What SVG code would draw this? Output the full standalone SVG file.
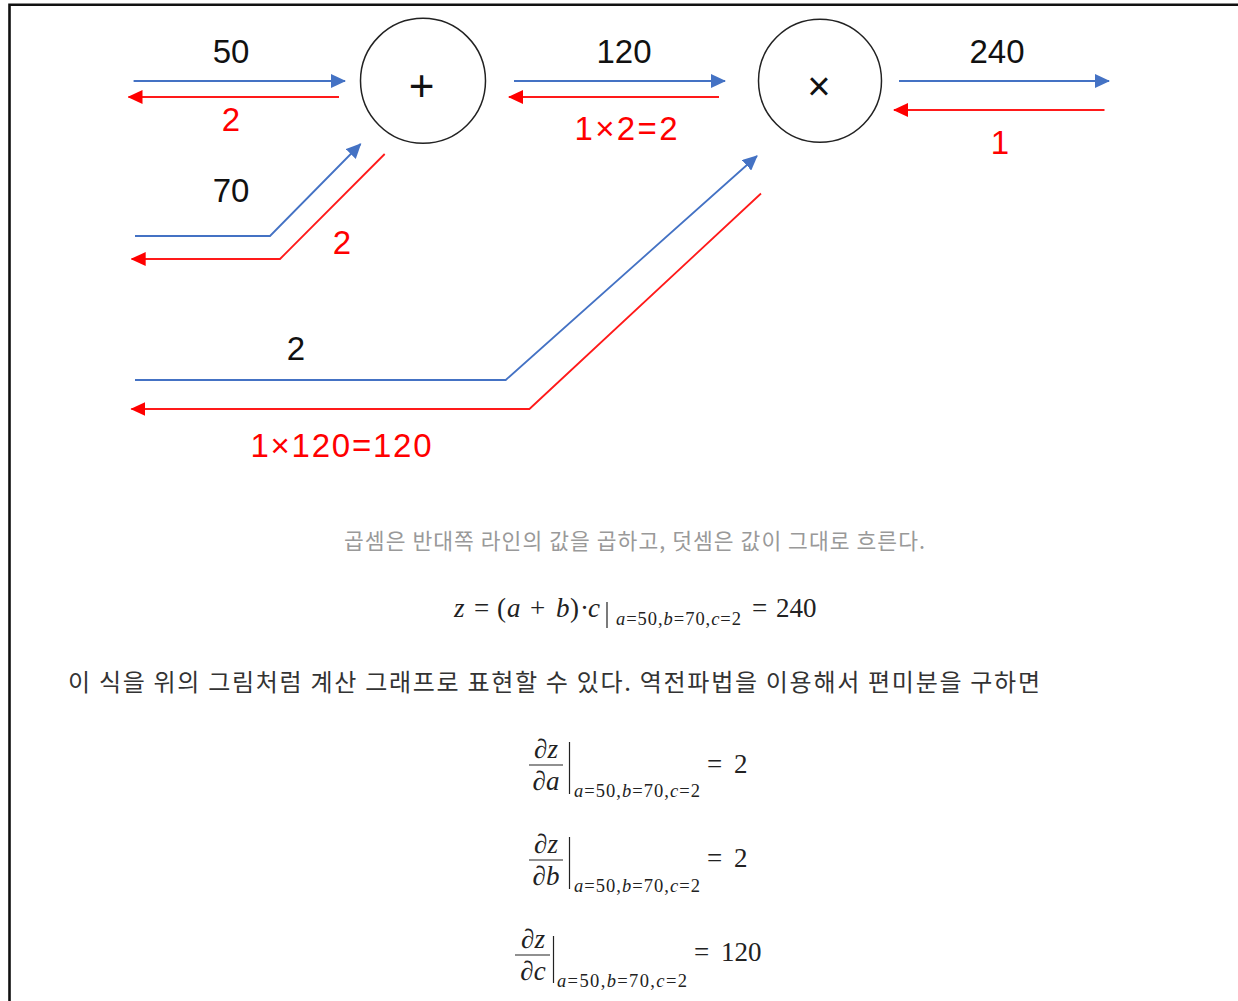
<svg xmlns="http://www.w3.org/2000/svg" width="1238" height="1001" viewBox="0 0 1238 1001">
<style>
.lbl{font-family:"Liberation Sans","DejaVu Sans",sans-serif;font-size:33px;text-anchor:middle}
.k{fill:#111}
.r{fill:#ff0000}
.b{fill:none;stroke:#4472c4;stroke-width:1.8}
.rd{fill:none;stroke:#ff1a1a;stroke-width:1.8}
.node{fill:#fff;stroke:#222;stroke-width:1.5}
.op{font-family:"Liberation Sans","DejaVu Sans",sans-serif;fill:#111;text-anchor:middle}
.kr{font-family:"Noto Sans CJK KR","Noto Sans",sans-serif}
.m{font-family:"Liberation Serif","DejaVu Serif",serif;fill:#222;font-size:27px}
.mi{font-style:italic}
.sub{font-family:"Liberation Serif","DejaVu Serif",serif;fill:#222;font-size:18.5px}
.ml{stroke:#222;stroke-width:1.2}
</style>
<defs>
<marker id="ab" markerUnits="userSpaceOnUse" markerWidth="15" markerHeight="14" viewBox="0 0 15 14" refX="14" refY="7" orient="auto"><path d="M0,0 L15,7 L0,14 z" fill="#4472c4"/></marker>
<marker id="ar" markerUnits="userSpaceOnUse" markerWidth="15" markerHeight="14" viewBox="0 0 15 14" refX="14" refY="7" orient="auto"><path d="M0,0 L15,7 L0,14 z" fill="#ff0000"/></marker>
</defs>
<rect x="0" y="0" width="1238" height="1001" fill="#fff"/>
<path d="M9.5,1001 V4.8 H1238" fill="none" stroke="#111" stroke-width="2.6"/>

<g id="connectors">
<path class="b" d="M133.6,81 L345,81" marker-end="url(#ab)"/>
<path class="rd" d="M339,97 L128.5,97" marker-end="url(#ar)"/>
<path class="b" d="M135,236 L270,236 L360.6,144" marker-end="url(#ab)"/>
<path class="rd" d="M384.7,154 L280,259 L131.7,259" marker-end="url(#ar)"/>
<path class="b" d="M514,81 L725,81" marker-end="url(#ab)"/>
<path class="rd" d="M719,97 L509,97" marker-end="url(#ar)"/>
<path class="b" d="M899,81 L1109,81" marker-end="url(#ab)"/>
<path class="rd" d="M1104.5,110 L894,110" marker-end="url(#ar)"/>
<path class="b" d="M135,380 L505.7,380 L757,156" marker-end="url(#ab)"/>
<path class="rd" d="M761,193.5 L529.4,409 L131.4,409" marker-end="url(#ar)"/>
</g>

<g id="node-add">
<circle class="node" cx="423" cy="80.8" r="62.5"/>
<text class="op" x="421.5" y="101" font-size="44">+</text>
</g>
<g id="node-mul">
<circle class="node" cx="820" cy="80.8" r="61.5"/>
<text class="op" x="819" y="100" font-size="40">×</text>
</g>

<g id="labels">
<text class="lbl k" x="231" y="63">50</text>
<text class="lbl r" x="231" y="131">2</text>
<text class="lbl k" x="231" y="202">70</text>
<text class="lbl r" x="342" y="254">2</text>
<text class="lbl k" x="624" y="63">120</text>
<text class="lbl r" x="626" y="140" textLength="103" lengthAdjust="spacing">1×2=2</text>
<text class="lbl k" x="997" y="63">240</text>
<text class="lbl r" x="1000" y="154">1</text>
<text class="lbl k" x="296" y="360">2</text>
<text class="lbl r" x="341" y="457" textLength="181" lengthAdjust="spacing">1×120=120</text>
</g>

<g id="caption">
<text class="kr" x="344" y="549" font-size="21.5" fill="#999" textLength="581" lengthAdjust="spacing">곱셈은 반대쪽 라인의 값을 곱하고, 덧셈은 값이 그대로 흐른다.</text>
</g>

<g id="formula">
<text class="m mi" x="454" y="617">z</text>
<text class="m" x="474" y="617">=</text>
<text class="m" x="497" y="617">(</text>
<text class="m mi" x="507" y="617">a</text>
<text class="m" x="530" y="617">+</text>
<text class="m mi" x="556" y="617">b</text>
<text class="m" x="570" y="617">)</text>
<text class="m" x="580" y="617">·</text>
<text class="m mi" x="588" y="617">c</text>
<line class="ml" x1="607" y1="602" x2="607" y2="628"/>
<text class="sub" x="616" y="625" textLength="125" lengthAdjust="spacing"><tspan class="mi">a</tspan>=50,<tspan class="mi">b</tspan>=70,<tspan class="mi">c</tspan>=2</text>
<text class="m" x="752" y="617">=</text>
<text class="m" x="776" y="617">240</text>
</g>

<g id="paragraph">
<text class="kr" x="68" y="691" font-size="24" fill="#333" textLength="972" lengthAdjust="spacing">이 식을 위의 그림처럼 계산 그래프로 표현할 수 있다. 역전파법을 이용해서 편미분을 구하면</text>
</g>

<g id="deriv-a">
<text class="m" x="546" y="758" text-anchor="middle">∂<tspan class="mi">z</tspan></text>
<line class="ml" x1="529" y1="765" x2="563" y2="765"/>
<text class="m" x="546" y="790" text-anchor="middle">∂<tspan class="mi">a</tspan></text>
<line class="ml" x1="569.5" y1="742" x2="569.5" y2="794"/>
<text class="sub" x="574" y="797" textLength="126" lengthAdjust="spacing"><tspan class="mi">a</tspan>=50,<tspan class="mi">b</tspan>=70,<tspan class="mi">c</tspan>=2</text>
<text class="m" x="707" y="773">=</text>
<text class="m" x="734" y="773">2</text>
</g>
<g id="deriv-b">
<text class="m" x="546" y="853" text-anchor="middle">∂<tspan class="mi">z</tspan></text>
<line class="ml" x1="529" y1="860" x2="563" y2="860"/>
<text class="m" x="546" y="885" text-anchor="middle">∂<tspan class="mi">b</tspan></text>
<line class="ml" x1="569.5" y1="837" x2="569.5" y2="889"/>
<text class="sub" x="574" y="892" textLength="126" lengthAdjust="spacing"><tspan class="mi">a</tspan>=50,<tspan class="mi">b</tspan>=70,<tspan class="mi">c</tspan>=2</text>
<text class="m" x="707" y="867">=</text>
<text class="m" x="734" y="867">2</text>
</g>
<g id="deriv-c">
<text class="m" x="533" y="948" text-anchor="middle">∂<tspan class="mi">z</tspan></text>
<line class="ml" x1="515" y1="955" x2="550" y2="955"/>
<text class="m" x="533" y="980" text-anchor="middle">∂<tspan class="mi">c</tspan></text>
<line class="ml" x1="553.5" y1="936" x2="553.5" y2="983"/>
<text class="sub" x="557" y="987" textLength="130" lengthAdjust="spacing"><tspan class="mi">a</tspan>=50,<tspan class="mi">b</tspan>=70,<tspan class="mi">c</tspan>=2</text>
<text class="m" x="694" y="961">=</text>
<text class="m" x="721" y="961">120</text>
</g>
</svg>
